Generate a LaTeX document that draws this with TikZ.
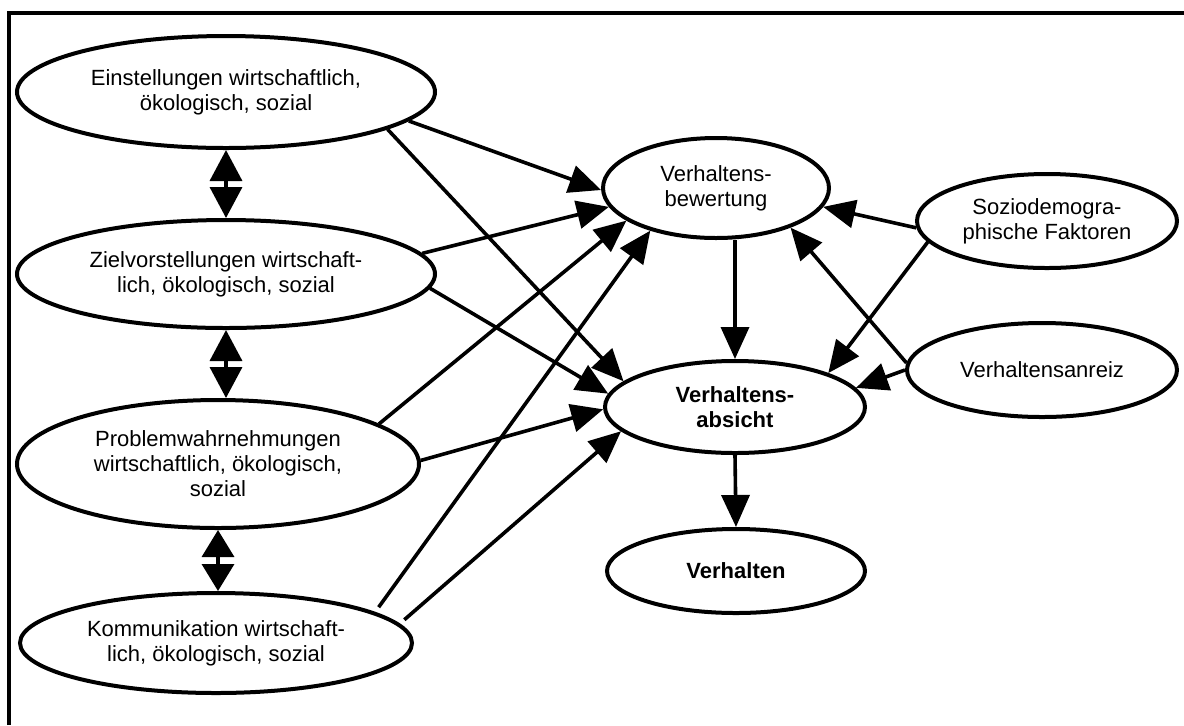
\documentclass[tikz,border=0pt]{standalone}
\usepackage{fontspec}
\setmainfont{Liberation Sans}
\usetikzlibrary{positioning,arrows.meta,shapes.geometric}

\begin{document}
\begin{tikzpicture}[x=0.5pt,y=-0.5pt,
		bubble/.style={shape=ellipse,draw=black,line width=2pt,inner sep=0pt,align=center,font=\fontsize{11}{12.5}\selectfont},
		pfeil/.style={-{Triangle[length=16pt,width=14pt]},line width=1.8pt},
		doppel/.style={{Triangle[length=#1,width=16pt]}-{Triangle[length=#1,width=16pt]},line width=1.8pt}]
		\useasboundingbox (0,0) rectangle (1184,725);
		\draw[line width=1.8pt] (9,725) -- (9,13) -- (1184,13);
		
		\node[bubble,minimum width=209pt,minimum height=56pt] (einst) at (226,92) {Einstellungen wirtschaftlich,\\ökologisch, sozial};
		\node[bubble,minimum width=209pt,minimum height=54pt] (ziel) at (226,274) {Zielvorstellungen wirtschaft-\\lich, ökologisch, sozial};
		\node[bubble,minimum width=201pt,minimum height=64pt] (problem) at (218,464) {Problemwahrnehmungen\\wirtschaftlich, ökologisch,\\sozial};
		\node[bubble,minimum width=196pt,minimum height=50pt] (komm) at (216,643) {Kommunikation wirtschaft-\\lich, ökologisch, sozial};
		
		\node[bubble,minimum width=113pt,minimum height=50pt] (bewert) at (716,188) {Verhaltens-\\bewertung};
		\node[bubble,minimum width=130pt,minimum height=46pt,font=\fontsize{11}{12.5}\selectfont\bfseries] (absicht) at (735,407) {Verhaltens-\\absicht};
		\node[bubble,minimum width=129pt,minimum height=42pt,font=\fontsize{11}{12.5}\selectfont\bfseries] (verhalten) at (736,571) {Verhalten};
		
		\node[bubble,minimum width=130pt,minimum height=47pt] (sozio) at (1047,221) {Soziodemogra-\\phische Faktoren};
		\node[bubble,minimum width=135pt,minimum height=47pt] (anreiz) at (1042,370) {Verhaltensanreiz};
		
		
		\path[doppel=15.5pt] (einst.south) edge (einst.south |- ziel.north);
		\path[doppel=15.5pt] (ziel.south) edge (ziel.south |- problem.north);
		\path[doppel=13.5pt] (problem.south) edge (problem.south |- komm.north);
		
		\path[pfeil] (einst.-9) edge (bewert.181);
		\path[pfeil] (einst.-13) edge (absicht.167);
		\path[pfeil] (ziel.6) edge (bewert.190);
		\path[pfeil] (ziel.-4) edge (absicht.174);
		\path[pfeil] (problem.14) edge (bewert.200);
		\path[pfeil] (problem.1) edge (absicht.181);
		\path[pfeil,shorten <=3pt] (komm.11) edge (bewert.213);
		\path[pfeil,shorten <=3pt] (komm.6) edge (absicht.192);
		
		\path[pfeil] (absicht.north |- bewert.south) edge (absicht.north);
		\path[pfeil] (absicht.south) edge (verhalten.north);
		
		\path[pfeil] (sozio.183) edge (bewert.-10);
		\path[pfeil] (sozio.190) edge (absicht.20);
		\path[pfeil] (anreiz.177) edge (bewert.-28);
		\path[pfeil] (anreiz.180) edge (absicht.9);
		\end{tikzpicture}
\end{document}
